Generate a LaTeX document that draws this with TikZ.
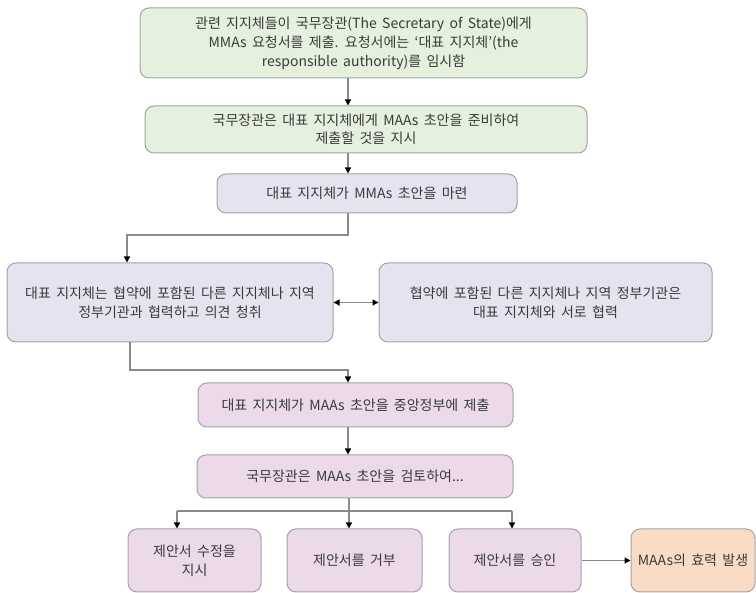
\documentclass[tikz,border=0pt]{standalone}
\usepackage{fontspec}
\setmainfont[WordSpace=1.7]{Noto Sans CJK KR}
\usetikzlibrary{arrows.meta}
\definecolor{gfill}{HTML}{E5F1DE}
\definecolor{lfill}{HTML}{E4E3F0}
\definecolor{pfill}{HTML}{ECDAEA}
\definecolor{ofill}{HTML}{FADCC6}
\definecolor{bord}{HTML}{A3A3A3}
\definecolor{lnc}{HTML}{8A8A8A}
\definecolor{txt}{HTML}{3A3A3A}
\tikzset{
  box/.style={draw=bord, line width=1pt, rounded corners=9pt, align=center,
    text=txt, font=\fontsize{14}{19}\selectfont, inner sep=0pt},
  gbox/.style={box, fill=gfill},
  lbox/.style={box, fill=lfill},
  pbox/.style={box, fill=pfill},
  obox/.style={box, fill=ofill},
  conn/.style={draw=lnc, line width=1.2pt},
  arr/.style={conn, -{Triangle[length=6pt,width=6pt,color=black]}},
  dblarr/.style={conn, {Triangle[length=6pt,width=6pt,color=black]}-{Triangle[length=6pt,width=6pt,color=black]}}
}
\begin{document}
\begin{tikzpicture}[x=1pt,y=-1pt]
\useasboundingbox (0,0) rectangle (756,593);
\node[gbox, minimum width=447pt, minimum height=70pt] (b1) at (363.5,43)
  {관련 지지체들이 국무장관(The Secretary of State)에게\\MMAs 요청서를 제출. 요청서에는 ‘대표 지지체’(the\\responsible authority)를 임시함};
\node[gbox, minimum width=442pt, minimum height=47pt, font=\fontsize{14}{18}\selectfont] (b2) at (366,129.5)
  {국무장관은 대표 지지체에게 MAAs 초안을 준비하여\\제출할 것을 지시};
\node[lbox, minimum width=300pt, minimum height=39pt] (b3) at (367,193.5)
  {대표 지지체가 MMAs 초안을 마련};
\node[lbox, minimum width=326pt, minimum height=79pt] (b4) at (170,302.5)
  {대표 지지체는 협약에 포함된 다른 지지체나 지역\\정부기관과 협력하고 의견 청취};
\node[lbox, minimum width=333pt, minimum height=79pt] (b5) at (545.5,302.5)
  {협약에 포함된 다른 지지체나 지역 정부기관은\\대표 지지체와 서로 협력};
\node[pbox, minimum width=315pt, minimum height=44pt] (b6) at (355.5,405)
  {대표 지지체가 MAAs 초안을 중앙정부에 제출};
\node[pbox, minimum width=316pt, minimum height=43pt] (b7) at (355,476.5)
  {국무장관은 MAAs 초안을 검토하여...};
\node[pbox, minimum width=133pt, minimum height=63pt] (bA) at (194.5,560.5)
  {제안서 수정을\\지시};
\node[pbox, minimum width=135pt, minimum height=63pt] (bB) at (354.5,560.5)
  {제안서를 거부};
\node[pbox, minimum width=132pt, minimum height=63pt] (bC) at (515,560.5)
  {제안서를 승인};
\node[obox, minimum width=124pt, minimum height=63pt] (bD) at (693,560.5)
  {MAAs의 효력 발생};
\coordinate (t) at (348,0);
\coordinate (j1) at (348,235);
\coordinate (l1) at (127,235);
\coordinate (j2) at (130,370);
\coordinate (ja) at (177,511);
\coordinate (jb) at (349,511);
\coordinate (jc) at (512,511);
\draw[arr] (b1.south -| t) -- (b2.north -| t);
\draw[arr] (b2.south -| t) -- (b3.north -| t);
\draw[arr] (b3.south -| t) -- (j1) -- (l1) -- (b4.north -| l1);
\draw[dblarr] (b4.east) -- (b5.west);
\draw[arr] (b4.south -| j2) -- (j2) -| (b6.north -| t);
\draw[arr] (b6.south -| t) -- (b7.north -| t);
\draw[conn] (b7.south -| jb) -- (jb);
\draw[conn] (ja) -- (jc);
\draw[arr] (ja) -- (bA.north -| ja);
\draw[arr] (jb) -- (bB.north -| jb);
\draw[arr] (jc) -- (bC.north -| jc);
\draw[arr] (bC.east) -- (bD.west);
\end{tikzpicture}
\end{document}
